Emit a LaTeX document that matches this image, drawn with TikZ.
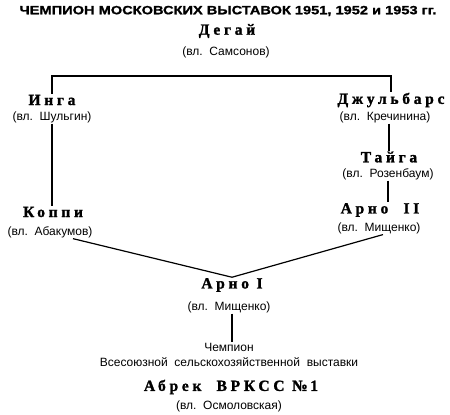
\documentclass[tikz,border=0pt]{standalone}
\usepackage{fontspec}
\setmainfont{Liberation Sans}
\newfontfamily\titlefont[FakeBold=1.2]{Liberation Sans}
\newfontfamily\namefont[LetterSpace=24,FakeBold=1.5]{Liberation Serif}
\usetikzlibrary{calc}
\begin{document}
\begin{tikzpicture}[x=1pt,y=-1pt,
  every node/.style={inner sep=0pt,outer sep=1pt},
  dogname/.style={font=\namefont\bfseries\fontsize{15.5}{15.5}\selectfont},
  owner/.style={font=\fontsize{12}{14}\selectfont},
  link/.style={line width=1.2pt}]
\useasboundingbox (0,0) rectangle (450,415);
\node (title) at (228,11) {\resizebox{417pt}{\height}{\titlefont\bfseries\fontsize{12}{14}\selectfont ЧЕМПИОН МОСКОВСКИХ ВЫСТАВОК 1951, 1952 и 1953 гг.}};
\node[dogname] (degai) at (227,31) {Дегай};
\node[owner] (degaiO) at (226,52) {(вл.\ \ Самсонов)};
\node[dogname] (inga) at (52,100) {Инга};
\node[owner] (ingaO) at (52,117) {(вл.\ \ Шульгин)};
\node[dogname] (dzh) at (391,100) {Джульбарс};
\node[owner] (dzhO) at (385,117) {(вл.\ \ Кречинина)};
\node[dogname] (taiga) at (389,157) {Тайга};
\node[owner] (taigaO) at (388,174) {(вл.\ \ Розенбаум)};
\node[dogname] (koppi) at (53,212) {Коппи};
\node[owner] (koppiO) at (50,232) {(вл.\ \ Абакумов)};
\node[dogname] (arno2) at (380,210) {Арно\ \ II};
\node[owner] (arno2O) at (379,228) {(вл.\ \ Мищенко)};
\node[dogname] (arno1) at (232,285) {Арно\ I};
\node[owner] (arno1O) at (229,307) {(вл.\ \ Мищенко)};
\node[owner] (champ) at (229,347) {Чемпион};
\node[owner] (vses) at (229,362) {Всесоюзной\ \ сельскохозяйственной\ \ выставки};
\node[dogname,font=\namefont\bfseries\fontsize{15.5}{15.5}\selectfont] (abrek) at (231,387) {Абрек\ \ ВРКСС\ №\,1};
\node[owner] (abrekO) at (229,406) {(вл.\ \ Осмоловская)};
\coordinate (bracket) at (222,76);
\draw[link] (inga.north) |- (bracket) -| (dzh.north);
\draw[link] (ingaO.south) -- (ingaO.south |- koppi.north);
\draw[link] (taiga.north |- dzhO.south) -- (taiga.north);
\draw[link] (taigaO.south) -- (taigaO.south |- arno2.north);
\draw[link] ($(koppiO.south)+(23,0)$) -- (arno1.north);
\draw[link] ($(arno2O.south)+(4,0)$) -- (arno1.north);
\draw[link] (arno1.center |- arno1O.south) -- (arno1.center |- champ.north);
\end{tikzpicture}
\end{document}
